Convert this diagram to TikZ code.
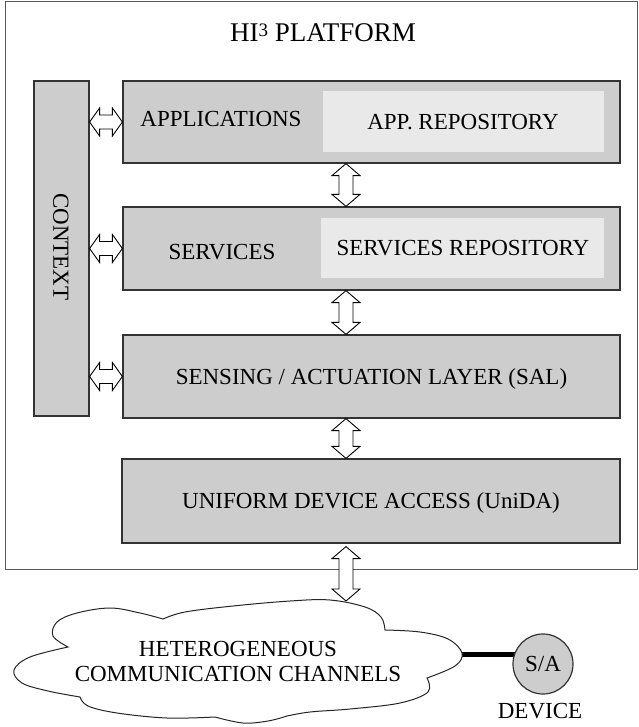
\documentclass[tikz,border=0pt]{standalone}
\usepackage{fontspec}
\setmainfont{Liberation Serif}
\usetikzlibrary{calc,backgrounds}
\definecolor{boxgray}{HTML}{CDCDCD}
\definecolor{repogray}{HTML}{E9E9E9}
\definecolor{edgegray}{HTML}{333333}
\newcommand\vdarrow[2]{%
  \draw[dblarr] let \p1=(#1), \p2=(#2) in
    (\x1,\y1) -- ++(14pt,-12pt) -- ++(-7pt,0pt) -- (\x1+7pt,\y2+12pt)
    -- ++(7pt,0pt) -- (\x1,\y2) -- ++(-14pt,12pt) -- ++(7pt,0pt)
    -- (\x1-7pt,\y1-12pt) -- ++(-7pt,0pt) -- cycle;}
\newcommand\hdarrow[2]{%
  \draw[dblarr] let \p1=(#1), \p2=(#2) in
    (\x1,\y1) -- ++(10pt,14pt) -- ++(0pt,-7pt) -- (\x2-10pt,\y1+7pt)
    -- ++(0pt,7pt) -- (\x2,\y1) -- ++(-10pt,-14pt) -- ++(0pt,7pt)
    -- (\x1+10pt,\y1-7pt) -- ++(0pt,-7pt) -- cycle;}
\begin{document}
\begin{tikzpicture}[x=1pt,y=-1pt,
  txt/.style={font=\fontsize{23}{25}\selectfont, text height=15.2pt, text depth=0pt, inner sep=0pt},
  layerbox/.style={draw=edgegray, line width=1.2pt, fill=boxgray, minimum width=497pt, inner sep=0pt},
  repobox/.style={fill=repogray, inner sep=0pt},
  dblarr/.style={draw=black, fill=white, line width=0.9pt, line join=miter},
  platbox/.style={draw=black!65, line width=1pt, minimum width=632.5pt, minimum height=567pt, inner sep=0pt}]
\useasboundingbox (0,0) rectangle (638,727);

% platform frame
\node[platbox] (plat) at (321.25,285.5) {};
\node[font=\fontsize{27}{30}\selectfont, text height=18pt, text depth=0pt, inner sep=0pt] (title) at (323,33)
  {HI\raisebox{5.2pt}{\fontsize{19}{20}\selectfont 3} PLATFORM};

% context column
\node[layerbox, minimum width=55pt, minimum height=335pt] (ctx) at (61.5,248.5) {};
\node[txt, rotate=-90] (ctxlbl) at (61,247) {CONTEXT};

% layers
\node[layerbox, minimum height=82pt] (app) at (371.5,122) {};
\node[repobox, minimum width=281pt, minimum height=61pt] (apprepo) at (463.5,121.5) {};
\node[txt] (applbl) at (221,119) {APPLICATIONS};
\node[txt] (apprepolbl) at (463,122) {APP. REPOSITORY};

\node[layerbox, minimum height=83pt] (serv) at (371.5,248.5) {};
\node[repobox, minimum width=283pt, minimum height=60pt] (servrepo) at (462.5,248) {};
\node[txt] (servlbl) at (222,252) {SERVICES};
\node[txt] (servrepolbl) at (463,248) {SERVICES REPOSITORY};

\node[layerbox, minimum height=83pt, txt] (sal) at (371.5,376.5) {SENSING / ACTUATION LAYER (SAL)};
\node[layerbox, minimum height=84pt, txt, minimum width=498pt] (uni) at (371,501) {UNIFORM DEVICE ACCESS (UniDA)};

% cloud
\filldraw[draw=black!85, line width=1pt, fill=white, line join=miter]
  plot[smooth, tension=0.6] coordinates {(68,647) (53,636) (57,622) (77,613) (110,608) (140,613) (163,619)}
  -- plot[smooth, tension=0.6] coordinates {(163,619) (185,612) (233,606) (290,601) (330,600) (365,607) (381,617) (385,630)}
  -- plot[smooth, tension=0.6] coordinates {(385,630) (420,632) (448,639) (462,653) (455,666) (427,678)}
  -- plot[smooth, tension=0.6] coordinates {(427,678) (428,692) (400,703) (350,709) (310,712) (287,716)}
  -- plot[smooth, tension=0.6] coordinates {(287,716) (268,721) (243,723) (215,717)}
  -- plot[smooth, tension=0.6] coordinates {(215,717) (167,718) (117,713) (88,706) (80,697)}
  -- plot[smooth, tension=0.6] coordinates {(80,697) (48,691) (22,683) (14,670) (30,657) (68,647)}
  -- cycle;
\coordinate (cloudT) at (346,601);
\coordinate (cloudR) at (461,654);
\node[align=center, font=\fontsize{23}{25}\selectfont, inner sep=0pt] (cloudtxt) at (238,661.5) {HETEROGENEOUS\\COMMUNICATION CHANNELS};

% device
\node[circle, draw=edgegray, line width=1.2pt, fill=boxgray, minimum size=60pt, txt] (sa) at (543,664) {S/A};
\node[txt] (devlbl) at (540,711) {DEVICE};
\begin{scope}[on background layer]
\draw[line width=5pt, black] (cloudR) -- (cloudR -| sa.center);
\end{scope}

% arrows
\coordinate (ax) at (346,0);
\hdarrow{ctx.east |- app.west}{app.west}
\hdarrow{ctx.east |- serv.west}{serv.west}
\hdarrow{ctx.east |- sal.west}{sal.west}
\vdarrow{app.south -| ax}{serv.north -| ax}
\vdarrow{serv.south -| ax}{sal.north -| ax}
\vdarrow{sal.south -| ax}{uni.north -| ax}
\coordinate (uniA) at ($(uni.south -| ax)+(0pt,-3pt)$);
\vdarrow{uniA}{cloudT}
\end{tikzpicture}
\end{document}
